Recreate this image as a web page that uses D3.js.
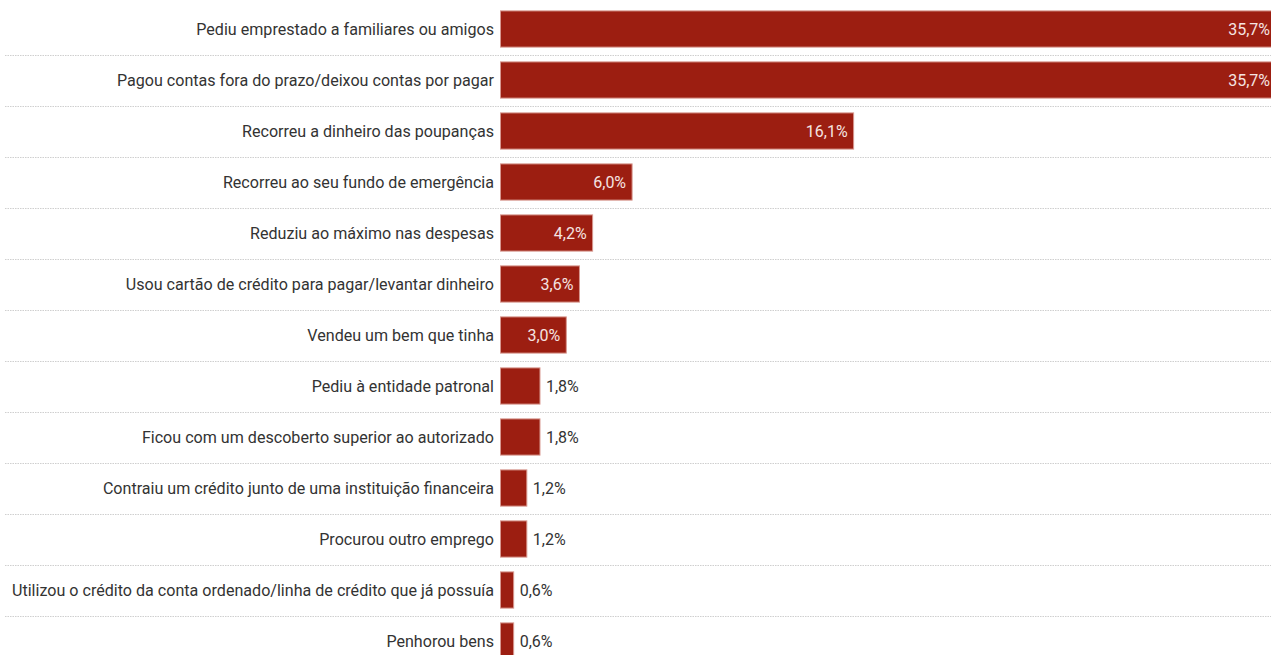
<!DOCTYPE html>
<html>
<head>
<meta charset="utf-8">
<script src="https://cdn.jsdelivr.net/npm/d3@7"></script>
<style>
  html, body { margin: 0; padding: 0; background: #fff; overflow: hidden; }
  svg { display: block; font-family: Roboto, "Noto Sans", sans-serif; }
</style>
</head>
<body>
<svg id="chart" width="1271" height="655"></svg>
<script>
const categories = [
  "Pediu emprestado a familiares ou amigos",
  "Pagou contas fora do prazo/deixou contas por pagar",
  "Recorreu a dinheiro das poupanças",
  "Recorreu ao seu fundo de emergência",
  "Reduziu ao máximo nas despesas",
  "Usou cartão de crédito para pagar/levantar dinheiro",
  "Vendeu um bem que tinha",
  "Pediu à entidade patronal",
  "Ficou com um descoberto superior ao autorizado",
  "Contraiu um crédito junto de uma instituição financeira",
  "Procurou outro emprego",
  "Utilizou o crédito da conta ordenado/linha de crédito que já possuía",
  "Penhorou bens"
];
const values = [35.7, 35.7, 16.1, 6.0, 4.2, 3.6, 3.0, 1.8, 1.8, 1.2, 1.2, 0.6, 0.6];

const svg = d3.select("#chart");
const W = 1271;
const barColor = "#9c1e11";

// Bars start at the label column; the widest bars run past the right edge
const x = d3.scaleLinear().domain([0, 35.7]).range([500.5, 1283.5]);
const rowStep = 51;
const y = d3.scaleBand()
  .domain(categories)
  .range([3.5, 3.5 + rowStep * categories.length])
  .paddingInner(0.29)
  .paddingOuter(0.145);

const fmt = v => d3.format(".1f")(v).replace(".", ",") + "%";

// Dotted row separators
const seps = categories.slice(0, -1).map((c, i) => i);
svg.selectAll("line.sep")
  .data(seps)
  .join("line")
  .attr("class", "sep")
  .attr("x1", 5).attr("x2", W)
  .attr("y1", i => Math.round(3.5 + rowStep * (i + 1)) + 0.5)
  .attr("y2", i => Math.round(3.5 + rowStep * (i + 1)) + 0.5)
  .attr("stroke", "#cfcfcf")
  .attr("stroke-width", 1)
  .attr("stroke-dasharray", "1.5,1");

// Category labels
svg.selectAll("text.cat")
  .data(categories)
  .join("text")
  .attr("class", "cat")
  .attr("x", 494)
  .attr("y", d => y(d) + y.bandwidth() / 2)
  .attr("dy", "0.35em")
  .attr("text-anchor", "end")
  .attr("font-size", 16.1)
  .attr("fill", "#333")
  .text(d => d);

// Bars
svg.selectAll("rect.bar")
  .data(values)
  .join("rect")
  .attr("class", "bar")
  .attr("x", x(0))
  .attr("y", (d, i) => y(categories[i]))
  .attr("width", d => x(d) - x(0))
  .attr("height", y.bandwidth())
  .attr("fill", barColor)
  .attr("stroke", "#d7978f")
  .attr("stroke-width", 1);

// Value labels: inside the bar when it is wide enough, otherwise just after it
const inside = v => v >= 2.5;
svg.selectAll("text.val")
  .data(values)
  .join("text")
  .attr("class", "val")
  .attr("x", d => inside(d) ? Math.min(x(d) - 6, W - 1) : x(d) + 6)
  .attr("y", (d, i) => y(categories[i]) + y.bandwidth() / 2)
  .attr("dy", "0.35em")
  .attr("text-anchor", d => inside(d) ? "end" : "start")
  .attr("font-size", 16)
  .attr("fill", d => inside(d) ? "#f5e4e1" : "#333")
  .text(d => fmt(d));
</script>
</body>
</html>
